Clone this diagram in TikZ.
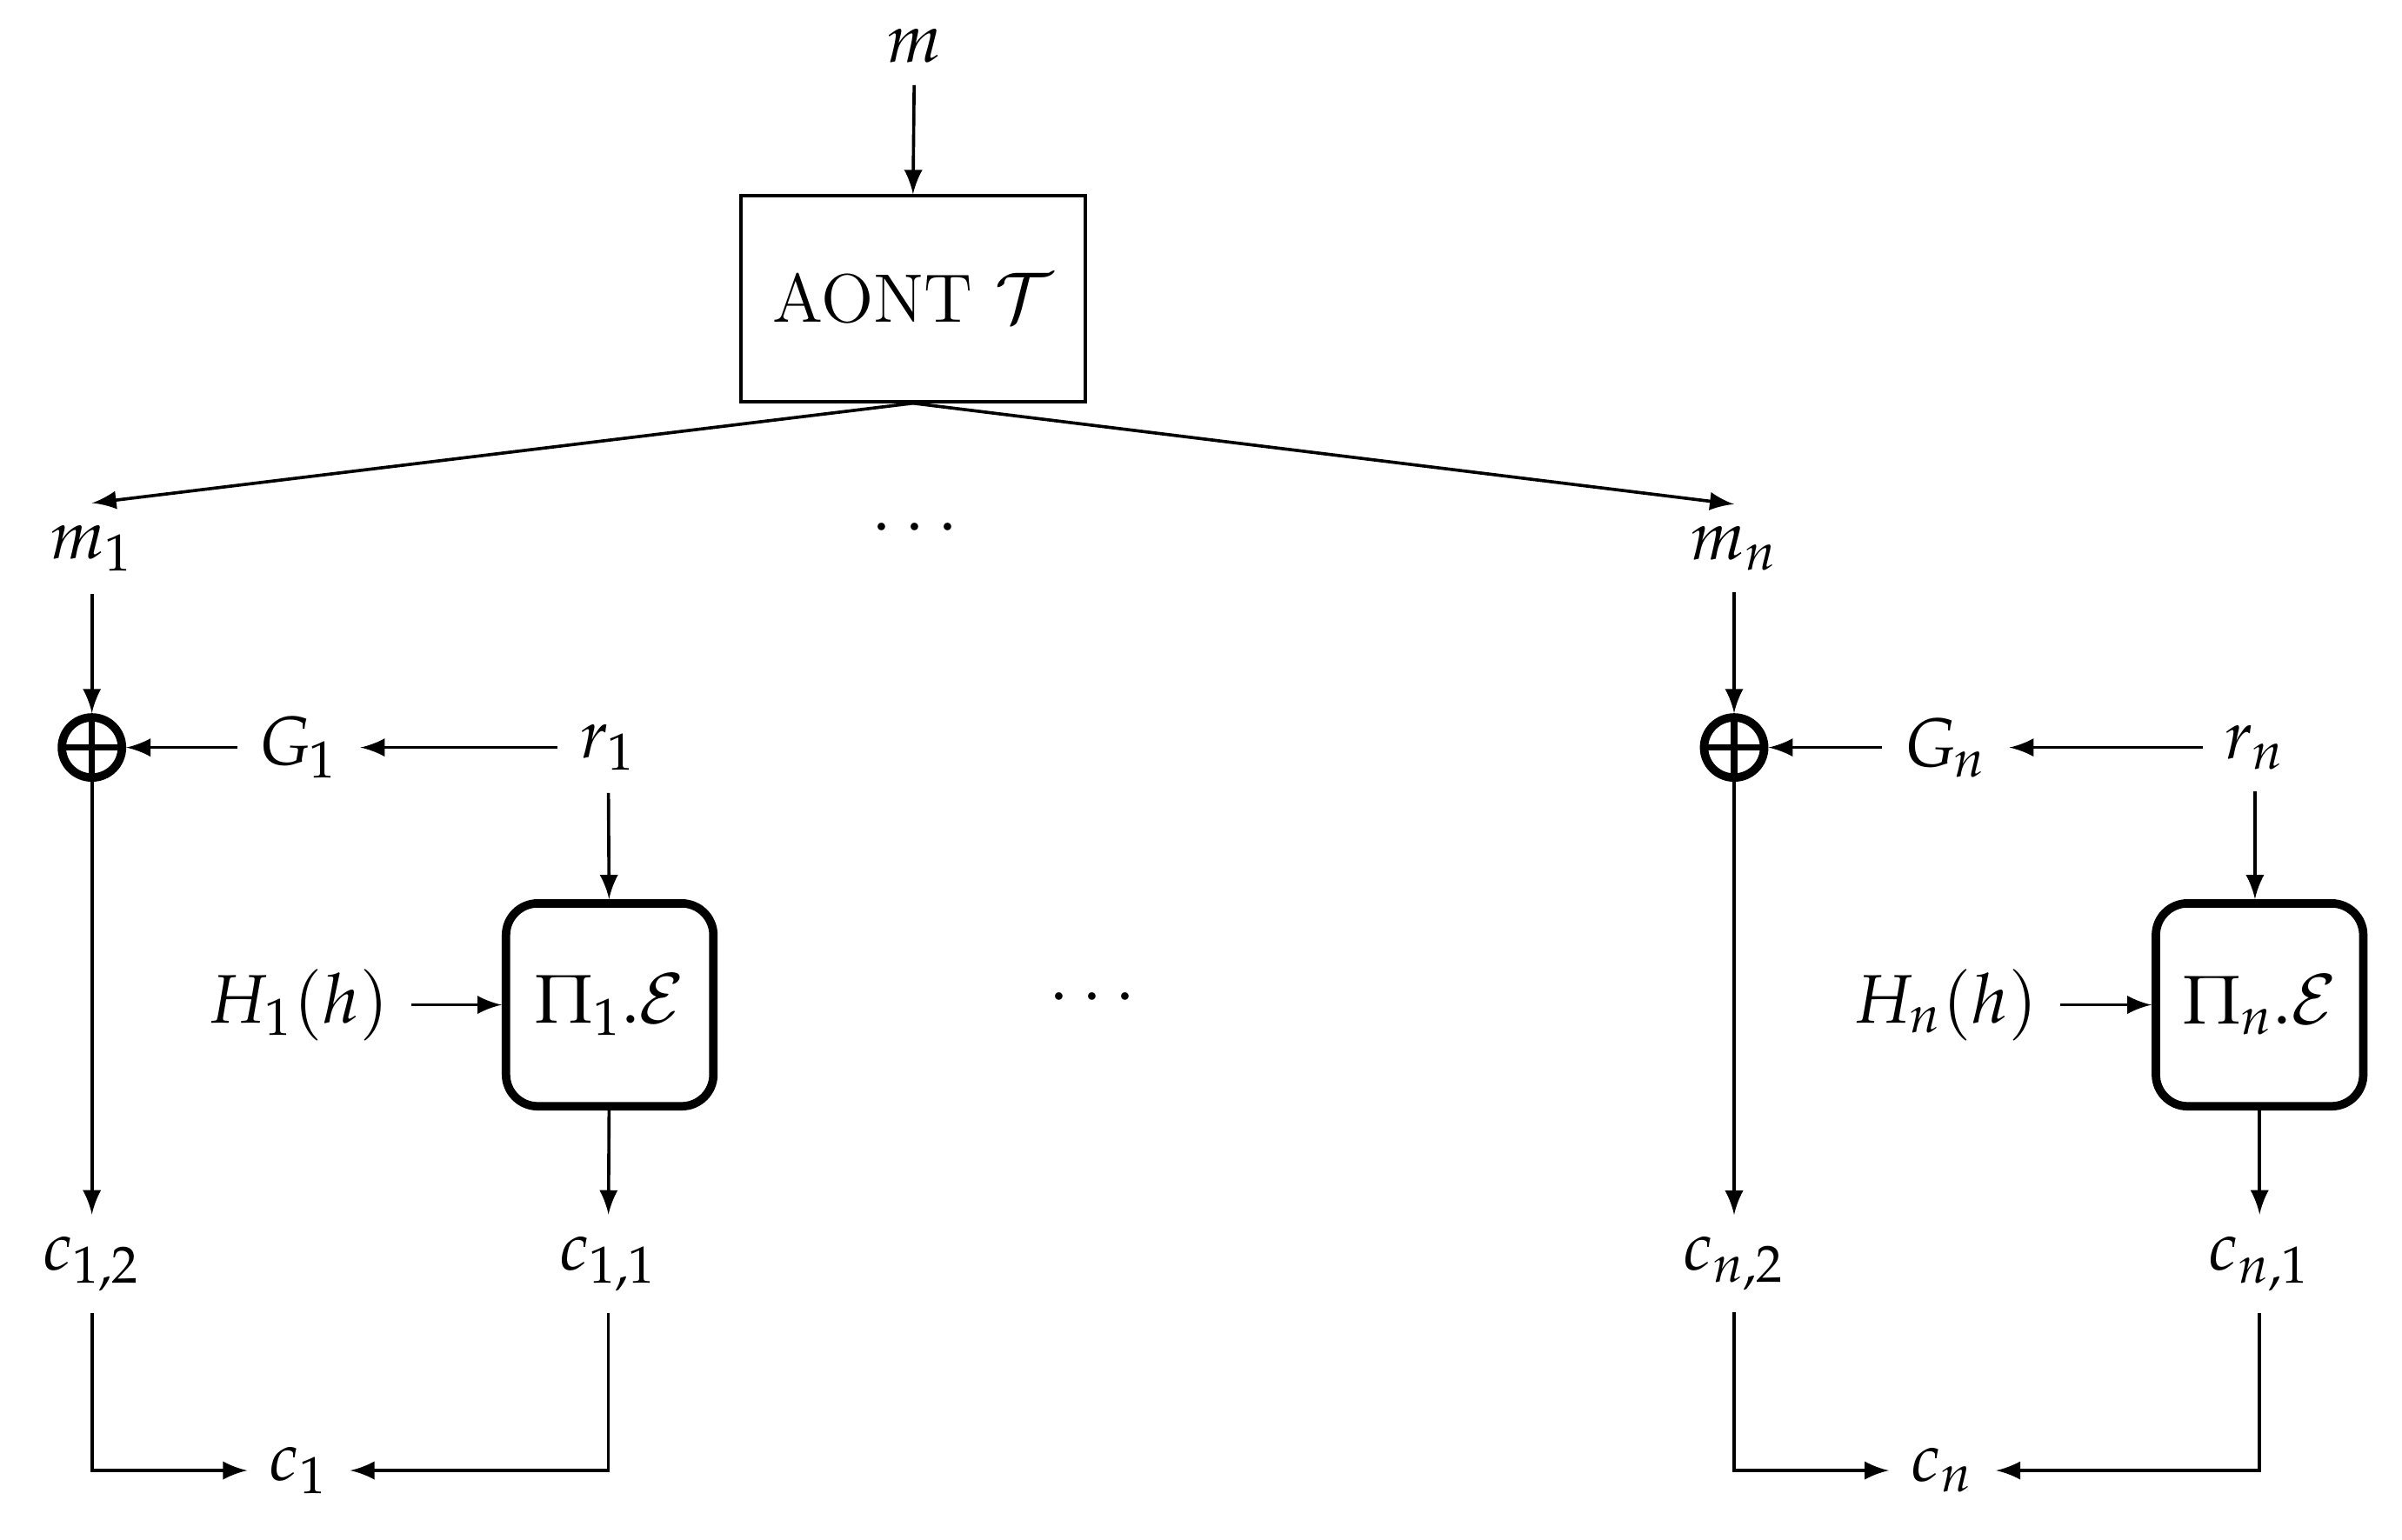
\documentclass[tikz,border=0pt]{standalone}
\usepackage{mathpazo}
\usetikzlibrary{arrows}
\begin{document}
\begin{tikzpicture}[x=0.0102cm,y=-0.0102cm,
  every node/.style={font=\fontsize{13}{15}\selectfont},
  lbl/.style={inner sep=4pt},
  arr/.style={-latex, line width=0.6pt},
  ln/.style={line width=0.6pt},
  rbox/.style={draw, line width=1.6pt, rounded corners=6pt, minimum width=1.38cm, minimum height=1.35cm, inner sep=0pt},
  xor/.style={circle, draw, line width=1.6pt, minimum size=0.4cm, inner sep=0pt,
    path picture={\draw[line width=1.2pt] (path picture bounding box.north) -- (path picture bounding box.south)
      (path picture bounding box.west) -- (path picture bounding box.east);}}]
\useasboundingbox (0,0) rectangle (1568,1005);
% top
\node[lbl] (m) at (597,30) {$m$};
\node[draw, line width=0.6pt, minimum width=2.29cm, minimum height=1.37cm] (T) at (596,195) {AONT $\mathcal{T}$};
\draw[arr] (m) -- (T.north);
\node[lbl] (m1) at (60,358) {$m_1$};
\node[lbl] (mn) at (1132,358) {$m_n$};
\node (d1) at (597,345) {$\cdots$};
\node (d2) at (713,652) {$\cdots$};
\draw[arr] (T.south) -- (m1.north);
\draw[arr] (T.south) -- (mn.north);
% branch 1
\node[xor] (x1) at (60,488) {};
\node[lbl] (G1) at (195,488) {$G_1$};
\node[lbl] (r1) at (397,488) {$r_1$};
\node[rbox] (P1) at (398,656) {$\Pi_1.\mathcal{E}$};
\node[lbl] (H1) at (195,656) {$H_1(h)$};
\node[lbl] (c12) at (60,825) {$c_{1,2}$};
\node[lbl] (c11) at (397,825) {$c_{1,1}$};
\node[lbl] (c1) at (195,960) {$c_1$};
\draw[arr] (m1) -- (x1);
\draw[arr] (r1) -- (G1);
\draw[arr] (G1) -- (x1);
\draw[arr] (r1) -- (P1);
\draw[arr] (H1) -- (P1);
\draw[arr] (x1) -- (c12);
\draw[arr] (P1) -- (c11);
\draw[arr] (c12.south) |- (c1.west);
\draw[arr] (c11.south) |- (c1.east);
% branch n
\node[xor] (xn) at (1132,488) {};
\node[lbl] (Gn) at (1270,488) {$G_n$};
\node[lbl] (rn) at (1472,488) {$r_n$};
\node[rbox] (Pn) at (1475,656) {$\Pi_n.\mathcal{E}$};
\node[lbl] (Hn) at (1270,656) {$H_n(h)$};
\node[lbl] (cn2) at (1132,825) {$c_{n,2}$};
\node[lbl] (cn1) at (1475,825) {$c_{n,1}$};
\node[lbl] (cn) at (1268,960) {$c_n$};
\draw[arr] (mn) -- (xn);
\draw[arr] (rn) -- (Gn);
\draw[arr] (Gn) -- (xn);
\draw[arr] (rn.south) -- (rn.south |- Pn.north);
\draw[arr] (Hn) -- (Pn);
\draw[arr] (xn) -- (cn2);
\draw[arr] (Pn) -- (cn1);
\draw[arr] (cn2.south) |- (cn.west);
\draw[arr] (cn1.south) |- (cn.east);
\end{tikzpicture}
\end{document}
